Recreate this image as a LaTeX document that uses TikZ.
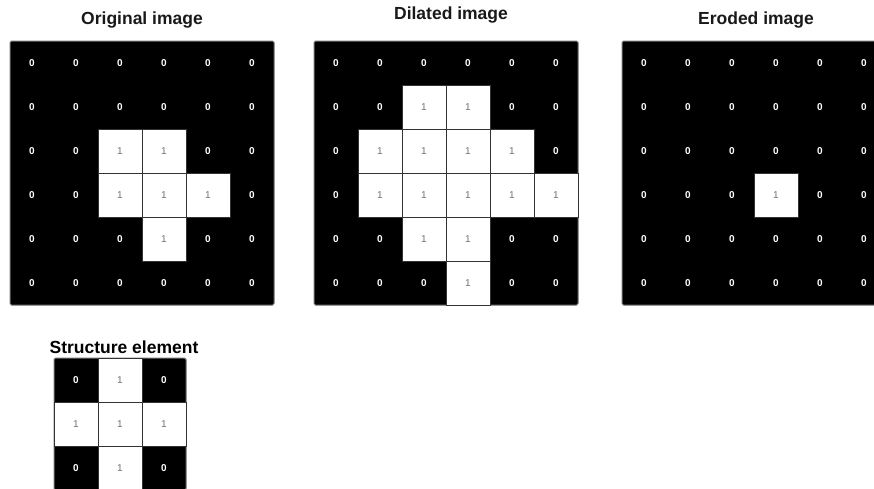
\documentclass[tikz,border=0pt]{standalone}
\usepackage{fontspec}
\setmainfont{Liberation Sans}
\tikzset{
  onecell/.style={draw=black!80, line width=1pt, fill=white, minimum size=44pt, inner sep=0pt, text=black!55, font=\fontsize{10}{12}\selectfont},
  zerocell/.style={minimum size=44pt, inner sep=0pt, text=white, font=\bfseries\fontsize{10}{12}\selectfont},
  gridframe/.style={fill=black, draw=black!55, line width=1pt, rounded corners=1.5pt},
  gridtitle/.style={font=\bfseries\fontsize{17.5}{20}\selectfont, text=black!90, inner sep=0pt}
}
\newcommand\drawcells[5]{%
  \draw[gridframe] (#2,#3) rectangle +({#5*44},{#4*44});
  \foreach \r in {1,...,#4} {\foreach \c in {1,...,#5} {%
    \pgfmathtruncatemacro\rr{\r-1}\pgfmathtruncatemacro\cc{\c-1}%
    \ifcsname one-#1-\rr-\cc\endcsname
      \node[onecell] (#1-\rr-\cc) at ({#2+(\cc+0.5)*44},{#3+(\rr+0.5)*44}) {1};
    \else
      \node[zerocell] (#1-\rr-\cc) at ({#2+(\cc+0.5)*44},{#3+(\rr+0.5)*44}) {0};
    \fi
  }}%
}
\begin{document}
\foreach \p in {O-2-2,O-2-3,O-3-2,O-3-3,O-3-4,O-4-3,
  D-1-2,D-1-3,D-2-1,D-2-2,D-2-3,D-2-4,D-3-1,D-3-2,D-3-3,D-3-4,D-3-5,D-4-2,D-4-3,D-5-3,
  E-3-3,
  S-0-1,S-1-0,S-1-1,S-1-2,S-2-1}{\expandafter\gdef\csname one-\p\endcsname{}}%
\begin{tikzpicture}[x=1pt,y=-1pt]
\useasboundingbox (0,0) rectangle (874,488);
\drawcells{O}{10}{41}{6}{6}
\drawcells{D}{314}{41}{6}{6}
\drawcells{E}{622}{41}{6}{6}
\drawcells{S}{54}{358}{3}{3}
\node[gridtitle] (tO) at (142,20) {Original image};
\node[gridtitle] (tD) at (451,15) {Dilated image};
\node[gridtitle] (tE) at (756,20) {Eroded image};
\node[gridtitle, text=black] (tS) at (124,347) {Structure element};
\end{tikzpicture}
\end{document}
